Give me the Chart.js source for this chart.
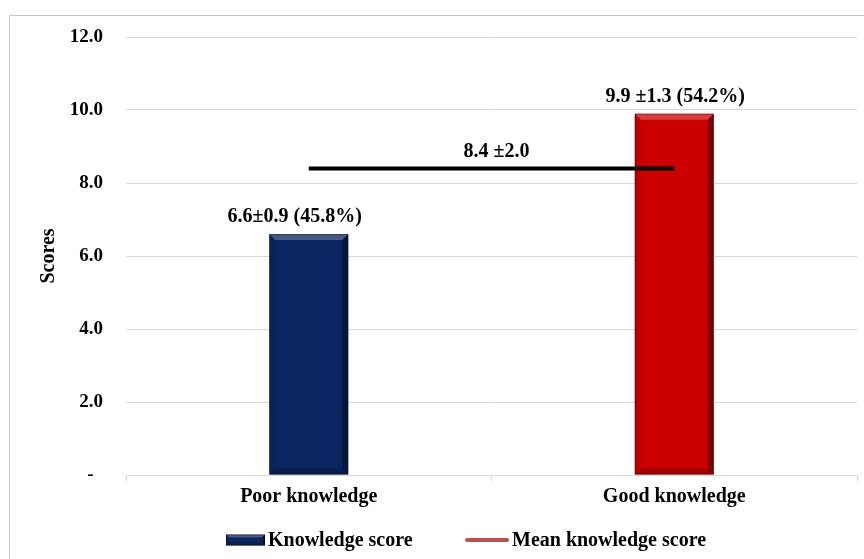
<!DOCTYPE html>
<html>
<head>
<meta charset="utf-8">
<script src="https://cdn.jsdelivr.net/npm/chart.js@4.4.1/dist/chart.umd.min.js"></script>
<style>
  html, body { margin: 0; padding: 0; background: #ffffff; }
  #wrap { width: 864px; height: 559px; }
</style>
</head>
<body>
<div id="wrap"><canvas id="chart" width="864" height="559"></canvas></div>
<script>
// Knowledge scores by knowledge level
const categories = ['Poor knowledge', 'Good knowledge'];
const knowledgeScores = [6.6, 9.9];
const meanScore = [8.4, 8.4];
const barLabels = ['6.6±0.9 (45.8%)', '9.9 ±1.3 (54.2%)'];
const meanLabel = '8.4 ±2.0';
const yTickLabels = ['-', '2.0', '4.0', '6.0', '8.0', '10.0', '12.0'];
const seriesNames = ['Knowledge score', 'Mean knowledge score'];
const axisTitle = 'Scores';

const FONT = "'Liberation Serif', 'Times New Roman', serif";
const BAR_COLORS = ['#0c2561', '#cc0000'];
const MEAN_LEGEND_COLOR = '#c0504d';

Chart.defaults.font.family = FONT;
Chart.defaults.font.weight = 'bold';
Chart.defaults.font.size = 20;
Chart.defaults.color = '#000000';

// White background plus the light outer frame (top and left edges)
const framePlugin = {
  id: 'frame',
  beforeDraw(chart) {
    const ctx = chart.ctx;
    ctx.save();
    ctx.fillStyle = '#ffffff';
    ctx.fillRect(0, 0, chart.width, chart.height);
    ctx.strokeStyle = '#c4c4c4';
    ctx.lineWidth = 1;
    ctx.beginPath();
    ctx.moveTo(9.5, chart.height);
    ctx.lineTo(9.5, 15.5);
    ctx.lineTo(chart.width, 15.5);
    ctx.stroke();
    ctx.restore();
  }
};

// Bevelled look for the bars
function bevelRect(ctx, l, t, r, b, size) {
  const quads = [
    [[l, t], [r, t], [r - size, t + size], [l + size, t + size], 'rgba(255,255,255,0.24)'],
    [[r, t], [r, b], [r - size, b - size], [r - size, t + size], 'rgba(0,0,0,0.38)'],
    [[l, b], [r, b], [r - size, b - size], [l + size, b - size], 'rgba(0,0,0,0.22)'],
    [[l, t], [l + size, t + size], [l + size, b - size], [l, b], 'rgba(0,0,0,0.08)']
  ];
  quads.forEach(q => {
    ctx.beginPath();
    ctx.moveTo(q[0][0], q[0][1]);
    for (let i = 1; i < 4; i++) ctx.lineTo(q[i][0], q[i][1]);
    ctx.closePath();
    ctx.fillStyle = q[4];
    ctx.fill();
  });
  ctx.strokeStyle = 'rgba(0,0,0,0.35)';
  ctx.lineWidth = 1;
  ctx.strokeRect(l + 0.5, t + 0.5, r - l - 1, b - t - 1);
}

const bevelPlugin = {
  id: 'bevel',
  afterDatasetDraw(chart, args) {
    if (chart.data.datasets[args.index].type !== 'bar') return;
    const ctx = chart.ctx;
    ctx.save();
    args.meta.data.forEach(bar => {
      const p = bar.getProps(['x', 'y', 'base', 'width'], true);
      bevelRect(ctx, p.x - p.width / 2, p.y, p.x + p.width / 2, p.base, 6);
    });
    ctx.restore();
  }
};

// Value labels above the bars and above the mean line
const valueLabelPlugin = {
  id: 'valueLabels',
  afterDatasetsDraw(chart, args, opts) {
    const ctx = chart.ctx;
    ctx.save();
    ctx.font = 'bold 20px ' + FONT;
    ctx.fillStyle = '#000000';
    ctx.textAlign = 'center';
    ctx.textBaseline = 'middle';
    const barMeta = chart.getDatasetMeta(0);
    barMeta.data.forEach((bar, i) => {
      ctx.fillText(barLabels[i], bar.x + opts.barLabelShift[i], bar.y - 17);
    });
    const lineMeta = chart.getDatasetMeta(1);
    const p0 = lineMeta.data[0], p1 = lineMeta.data[lineMeta.data.length - 1];
    ctx.fillText(meanLabel, (p0.x + p1.x) / 2 + opts.meanLabelShift, p0.y - 17);
    ctx.restore();
  }
};

// Legend drawn under the category axis
const legendPlugin = {
  id: 'customLegend',
  afterDraw(chart) {
    const ctx = chart.ctx;
    const y = 540;
    ctx.save();
    ctx.font = 'bold 20px ' + FONT;
    ctx.fillStyle = '#000000';
    ctx.textAlign = 'left';
    ctx.textBaseline = 'middle';
    // bar series swatch
    ctx.fillStyle = BAR_COLORS[0];
    ctx.fillRect(226, y - 5.5, 39, 11);
    bevelRect(ctx, 226, y - 5.5, 265, y + 5.5, 3);
    ctx.fillStyle = '#000000';
    ctx.fillText(chart.data.datasets[0].label, 268, y + 1);
    // mean series swatch
    ctx.strokeStyle = chart.data.datasets[1].backgroundColor;
    ctx.lineWidth = 4;
    ctx.lineCap = 'round';
    ctx.beginPath();
    ctx.moveTo(467, y);
    ctx.lineTo(507, y);
    ctx.stroke();
    ctx.fillText(chart.data.datasets[1].label, 512, y + 1);
    ctx.restore();
  }
};

new Chart(document.getElementById('chart'), {
  data: {
    labels: categories,
    datasets: [
      {
        type: 'bar',
        label: seriesNames[0],
        data: knowledgeScores,
        backgroundColor: BAR_COLORS,
        borderWidth: 0,
        categoryPercentage: 1.0,
        barPercentage: 0.216,
        order: 1
      },
      {
        type: 'line',
        label: seriesNames[1],
        data: meanScore,
        borderColor: '#000000',
        backgroundColor: MEAN_LEGEND_COLOR,
        borderWidth: 4,
        pointRadius: 0,
        fill: false,
        order: 0
      }
    ]
  },
  options: {
    responsive: false,
    animation: false,
    devicePixelRatio: 1,
    layout: { padding: { left: 0, right: 7, top: 37, bottom: 0 } },
    plugins: {
      legend: { display: false },
      tooltip: { enabled: false },
      valueLabels: { barLabelShift: [-14, 1], meanLabelShift: 5 }
    },
    scales: {
      x: {
        grid: {
          display: true,
          offset: true,
          drawOnChartArea: false,
          drawTicks: true,
          tickLength: 6,
          color: '#d9d9d9'
        },
        border: { display: true, color: '#d9d9d9' },
        ticks: { padding: 4, color: '#000000', font: { size: 20, weight: 'bold' } },
        afterFit(scale) { scale.height = 84; }
      },
      y: {
        min: 0,
        max: 12,
        ticks: {
          stepSize: 2,
          padding: 23,
          color: '#000000',
          font: { size: 19, weight: 'bold' },
          callback(value) {
            const s = yTickLabels[Math.round(value / 2)];
            return s === '-' ? '-  ' : s;
          }
        },
        grid: { color: '#d9d9d9', drawTicks: false, tickLength: 0 },
        border: { display: false },
        title: {
          display: true,
          text: axisTitle,
          color: '#000000',
          font: { size: 20, weight: 'bold' },
          padding: { top: 37, bottom: 0 }
        },
        afterFit(scale) { scale.width = 126; }
      }
    }
  },
  plugins: [framePlugin, bevelPlugin, valueLabelPlugin, legendPlugin]
});
</script>
</body>
</html>
